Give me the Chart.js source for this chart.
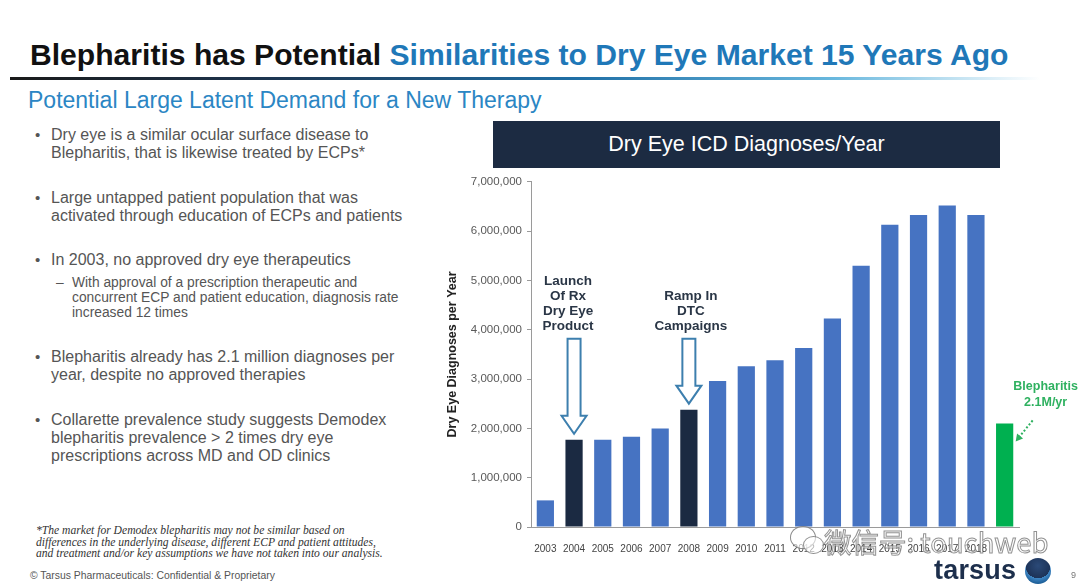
<!DOCTYPE html>
<html><head><meta charset="utf-8">
<script src="https://cdn.jsdelivr.net/npm/chart.js@4.4.1/dist/chart.umd.min.js"></script>
<style>
html,body{margin:0;padding:0;background:#fff;width:1080px;height:588px;overflow:hidden;font-family:"Liberation Sans",Arial,sans-serif;}
.abs{position:absolute;white-space:nowrap;}
#title{left:30px;top:38px;font-size:30.1px;font-weight:bold;color:#111;}
#title span{color:#1f78b8;}
#rule{left:10px;top:77px;width:1030px;height:3px;background:linear-gradient(90deg,#1a1a1a 0%,#1d3550 25%,#1f6fa6 55%,#69b8de 80%,rgba(200,225,240,0) 100%);}
#sub{left:28px;top:87px;font-size:23px;color:#2b86c4;}
.b{font-size:16px;color:#555;line-height:18px;}
.dot{font-size:15px;color:#555;}
.s{font-size:13.8px;color:#555;line-height:15px;}
#foot{left:36px;top:525px;font-family:"Liberation Serif","Times New Roman",serif;font-style:italic;font-size:11.6px;line-height:11.7px;color:#333;}
#copy{left:30px;top:570px;font-size:10.4px;color:#555;}
#box{left:493px;top:121px;width:507px;height:47px;background:#1c2b42;color:#fff;font-size:21.5px;text-align:center;line-height:47px;}
#logo{left:934px;top:555px;font-size:27px;font-weight:bold;color:#1d2f4c;letter-spacing:0.2px;}
#circ{left:1025px;top:558px;width:26px;height:26px;border-radius:50%;background:radial-gradient(circle at 50% 30%,#2b4a78 0%,#1d3358 55%,#3f86c4 56%,#1b5d96 80%,#1e3a66 100%);}
#pg{left:1071px;top:570px;font-size:9px;color:#777;}
#wm{left:824px;top:521px;font-family:"Noto Sans CJK SC",sans-serif;font-size:27.5px;color:rgba(255,255,255,0.55);-webkit-text-stroke:1px rgba(110,110,110,0.75);}
.bub{position:absolute;border-radius:50%;border:1.5px solid rgba(110,110,110,0.8);background:rgba(255,255,255,0.6);}
#cv{position:absolute;left:430px;top:170px;}
</style></head><body>
<div class="abs" id="title">Blepharitis has Potential <span>Similarities to Dry Eye Market 15 Years Ago</span></div>
<div class="abs" id="rule"></div>
<div class="abs" id="sub">Potential Large Latent Demand for a New Therapy</div>

<div class="abs dot" style="left:35px;top:126px;">•</div>
<div class="abs b" style="left:51px;top:126px;">Dry eye is a similar ocular surface disease to<br>Blepharitis, that is likewise treated by ECPs*</div>
<div class="abs dot" style="left:35px;top:189px;">•</div>
<div class="abs b" style="left:51px;top:189px;">Large untapped patient population that was<br>activated through education of ECPs and patients</div>
<div class="abs dot" style="left:35px;top:251px;">•</div>
<div class="abs b" style="left:51px;top:251px;">In 2003, no approved dry eye therapeutics</div>
<div class="abs s" style="left:56px;top:275px;">–</div>
<div class="abs s" style="left:72px;top:275px;">With approval of a prescription therapeutic and<br>concurrent ECP and patient education, diagnosis rate<br>increased 12 times</div>
<div class="abs dot" style="left:35px;top:348px;">•</div>
<div class="abs b" style="left:51px;top:348px;">Blepharitis already has 2.1 million diagnoses per<br>year, despite no approved therapies</div>
<div class="abs dot" style="left:35px;top:411px;">•</div>
<div class="abs b" style="left:51px;top:411px;">Collarette prevalence study suggests Demodex<br>blepharitis prevalence &gt; 2 times dry eye<br>prescriptions across MD and OD clinics</div>

<div class="abs" id="foot">*The market for Demodex blepharitis may not be similar based on<br>differences in the underlying disease, different ECP and patient attitudes,<br>and treatment and/or key assumptions we have not taken into our analysis.</div>
<div class="abs" id="copy">© Tarsus Pharmaceuticals: Confidential &amp; Proprietary</div>

<div class="abs" id="box">Dry Eye ICD Diagnoses/Year</div>
<canvas id="cv" width="650" height="390"></canvas>

<div class="bub" style="left:790px;top:526px;width:24px;height:21px;"></div>
<div class="bub" style="left:803px;top:536px;width:19px;height:16px;"></div>
<div class="abs" id="wm">微信号: touchweb</div>
<div class="abs" id="logo">tarsus</div>
<div class="abs" id="circ"></div>
<div class="abs" id="pg">9</div>

<script>
// ---- data ----
const years = ['2003','2004','2005','2006','2007','2008','2009','2010','2011','2012','2013','2014','2015','2016','2017','2018'];
const diagnoses = [540000,1770000,1770000,1830000,2000000,2380000,2960000,3260000,3380000,3630000,4230000,5300000,6130000,6330000,6520000,6330000];
const highlightYears = ['2004','2008'];
const blepharitisLabel = '';
const blepharitisValue = 2100000;
const yTicks = [0,1000000,2000000,3000000,4000000,5000000,6000000,7000000];
const annotations = [
  {year:'2004', lines:['Launch','Of Rx','Dry Eye','Product']},
  {year:'2008', lines:['Ramp In','DTC','Campaigns']}
];
const blephText = ['Blepharitis','2.1M/yr'];

// ---- styles ----
const BLUE = '#4673c2', NAVY = '#1b2a42', GREEN = '#00b050';
const labels = years.concat([blepharitisLabel]);
const values = diagnoses.concat([blepharitisValue]);
const colors = years.map(y => highlightYears.includes(y) ? NAVY : BLUE).concat([GREEN]);

function hollowArrow(ctx, cx, top, tip) {
  const sw = 13, hw = 25, hh = 18;
  ctx.beginPath();
  ctx.moveTo(cx - sw/2, top);
  ctx.lineTo(cx + sw/2, top);
  ctx.lineTo(cx + sw/2, tip - hh);
  ctx.lineTo(cx + hw/2, tip - hh);
  ctx.lineTo(cx, tip);
  ctx.lineTo(cx - hw/2, tip - hh);
  ctx.lineTo(cx - sw/2, tip - hh);
  ctx.closePath();
  ctx.fillStyle = '#fff';
  ctx.fill();
  ctx.strokeStyle = '#3d7fae';
  ctx.lineWidth = 2;
  ctx.stroke();
}

const annot = {
  id: 'annot',
  afterDatasetsDraw(chart) {
    const ctx = chart.ctx, x = chart.scales.x, y = chart.scales.y;
    ctx.save();
    ctx.font = 'bold 13.5px "Liberation Sans", Arial, sans-serif';
    ctx.textAlign = 'center';
    ctx.textBaseline = 'middle';
    annotations.forEach(a => {
      const i = labels.indexOf(a.year);
      const cx = x.getPixelForValue(i);
      const barTop = y.getPixelForValue(values[i]);
      const textTop = y.getPixelForValue(5000000) + 1;
      const firstY = (a.lines.length === 4) ? textTop : textTop + 14.8;
      ctx.fillStyle = '#2a3646';
      a.lines.forEach((l, k) => ctx.fillText(l, cx - 6 + (a.year==='2008'?8:0), firstY + k * 14.8));
      hollowArrow(ctx, cx, y.getPixelForValue(3820000), barTop - 6);
    });
    // blepharitis label
    const gi = labels.length - 1;
    const gx = x.getPixelForValue(gi);
    const gTop = y.getPixelForValue(values[gi]);
    ctx.fillStyle = '#2fb160';
    ctx.font = 'bold 12.5px "Liberation Sans", Arial, sans-serif';
    ctx.fillText(blephText[0], gx + 41, gTop - 37);
    ctx.fillText(blephText[1], gx + 41, gTop - 21);
    // dotted arrow
    const x1 = gx + 28, y1 = gTop - 3, x2 = gx + 11, y2 = gTop + 18;
    ctx.strokeStyle = '#2fb160';
    ctx.lineWidth = 2;
    ctx.setLineDash([2, 2]);
    ctx.beginPath(); ctx.moveTo(x1, y1); ctx.lineTo(x2 + 4, y2 - 5); ctx.stroke();
    ctx.setLineDash([]);
    const ang = Math.atan2(y2 - y1, x2 - x1);
    ctx.fillStyle = '#2fb160';
    ctx.beginPath();
    ctx.moveTo(x2, y2);
    ctx.lineTo(x2 - 8*Math.cos(ang - 0.5), y2 - 8*Math.sin(ang - 0.5));
    ctx.lineTo(x2 - 8*Math.cos(ang + 0.5), y2 - 8*Math.sin(ang + 0.5));
    ctx.closePath(); ctx.fill();
    ctx.restore();
  }
};

new Chart(document.getElementById('cv'), {
  type: 'bar',
  data: { labels: labels, datasets: [{ data: values, backgroundColor: colors, borderWidth: 0, categoryPercentage: 1, barPercentage: 0.6 }] },
  options: {
    responsive: false, animation: false, devicePixelRatio: 1,
    layout: { padding: { top: 8, left: 15, right: 61, bottom: 0 } },
    plugins: { legend: { display: false }, tooltip: { enabled: false } },
    scales: {
      x: {
        offset: true,
        grid: { display: false },
        border: { display: true, color: '#9a9a9a', width: 1 },
        ticks: { color: '#444', font: { size: 10, family: '"Liberation Sans", Arial, sans-serif' }, padding: 8, maxRotation: 0, autoSkip: false },
        afterFit(s) { s.height = 33; }
      },
      y: {
        min: 0, max: 7000000,
        afterBuildTicks(s) { s.ticks = yTicks.map(v => ({ value: v })); },
        grid: { drawOnChartArea: false, drawTicks: true, tickLength: 4, color: '#9a9a9a' },
        border: { display: true, color: '#9a9a9a', width: 1 },
        ticks: { color: '#595959', padding: 5, font: { size: 11.5, family: '"Liberation Sans", Arial, sans-serif' },
          callback: v => Number(v).toLocaleString('en-US') },
        title: { display: true, text: 'Dry Eye Diagnoses per Year', color: '#222', padding: { top: 0, bottom: 0 },
          font: { size: 12.5, weight: 'bold', family: '"Liberation Sans", Arial, sans-serif' } },
        afterFit(s) { s.width = 86; }
      }
    }
  },
  plugins: [annot]
});
</script>
</body></html>
